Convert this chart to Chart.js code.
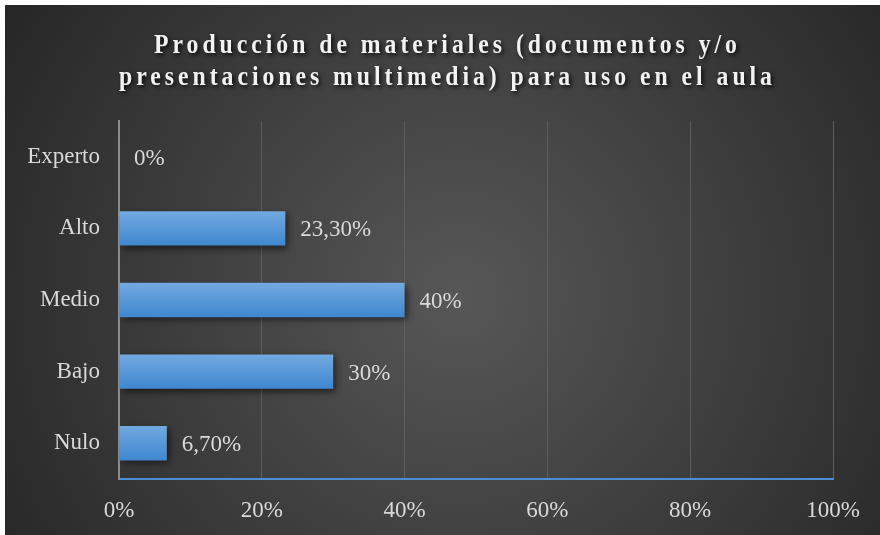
<!DOCTYPE html>
<html>
<head>
<meta charset="utf-8">
<script src="https://cdn.jsdelivr.net/npm/chart.js@4"></script>
<style>
  html, body { margin: 0; padding: 0; background: #fff; }
  #wrap { position: absolute; left: 5px; top: 5px; width: 875px; height: 530px; }
</style>
</head>
<body>
<div id="wrap"><canvas id="chart" width="875" height="530"></canvas></div>
<script>
const categories = ["Experto", "Alto", "Medio", "Bajo", "Nulo"];
const values = [0, 23.3, 40, 30, 6.7];
const valueLabels = ["0%", "23,30%", "40%", "30%", "6,70%"];
const tickValues = [0, 20, 40, 60, 80, 100];
const titleLines = ["Producción de materiales (documentos y/o", "presentaciones multimedia) para uso en el aula"];

const serif = "'Liberation Serif', 'Times New Roman', serif";

// dark radial background
const bgPlugin = {
    id: "bg",
    beforeDraw(chart) {
        const ctx = chart.ctx;
        const w = chart.width, h = chart.height;
        const g = ctx.createRadialGradient(w * 0.52, h * 0.55, 0, w * 0.52, h * 0.55, w * 0.62);
        g.addColorStop(0, "#575757");
        g.addColorStop(1, "#262626");
        ctx.save();
        ctx.fillStyle = g;
        ctx.fillRect(0, 0, w, h);
        ctx.restore();
    }
};

// bars get a soft shadow
const shadowPlugin = {
    id: "barShadow",
    beforeDatasetDraw(chart) {
        const ctx = chart.ctx;
        ctx.save();
        ctx.shadowColor = "rgba(0,0,0,0.55)";
        ctx.shadowBlur = 7;
        ctx.shadowOffsetX = 3;
        ctx.shadowOffsetY = 3;
    },
    afterDatasetDraw(chart) {
        chart.ctx.restore();
    }
};

const labelPlugin = {
    id: "valueLabels",
    afterDatasetsDraw(chart) {
        const ctx = chart.ctx;
        const meta = chart.getDatasetMeta(0);
        ctx.save();
        ctx.font = "23px " + serif;
        ctx.fillStyle = "#d9d9d9";
        ctx.textBaseline = "middle";
        ctx.textAlign = "left";
        meta.data.forEach((bar, i) => {
            ctx.fillText(valueLabels[i], bar.x + 15, bar.y + 2);
        });
        ctx.restore();
    }
};

// title: tall condensed serif, spaced out, with a drop shadow
const titlePlugin = {
    id: "fancyTitle",
    afterDraw(chart) {
        const ctx = chart.ctx;
        const sx = 0.88;
        ctx.save();
        ctx.scale(sx, 1);
        ctx.font = "bold 27px " + serif;
        ctx.letterSpacing = "4.5px";
        ctx.fillStyle = "#f2f2f2";
        ctx.textAlign = "center";
        ctx.textBaseline = "middle";
        ctx.shadowColor = "rgba(0,0,0,0.8)";
        ctx.shadowBlur = 4;
        ctx.shadowOffsetX = 2;
        ctx.shadowOffsetY = 2;
        const cx = (chart.width / 2 + 5) / sx;
        titleLines.forEach((line, i) => {
            ctx.fillText(line, cx, 41 + i * 32);
        });
        ctx.restore();
    }
};

function barGradient(context) {
    const chart = context.chart;
    const yScale = chart.scales.y;
    if (!chart.chartArea || !yScale) return "#5b9bd5";
    const cy = yScale.getPixelForValue(context.dataIndex);
    if (!isFinite(cy)) return "#5b9bd5";
    const h = 34;
    const g = chart.ctx.createLinearGradient(0, cy - h / 2, 0, cy + h / 2);
    g.addColorStop(0, "#72a9e0");
    g.addColorStop(1, "#3f87cf");
    return g;
}

const ctx = document.getElementById("chart").getContext("2d");
window.myChart = new Chart(ctx, {
    type: "bar",
    data: {
        labels: categories,
        datasets: [{
            data: values,
            backgroundColor: barGradient,
            borderWidth: 0,
            barPercentage: 0.48,
            categoryPercentage: 1
        }]
    },
    options: {
        indexAxis: "y",
        responsive: false,
        animation: false,
        layout: { padding: { top: 116, right: 47, left: 0, bottom: 0 } },
        plugins: {
            legend: { display: false },
            title: { display: false },
            tooltip: { enabled: false }
        },
        scales: {
            x: {
                min: 0,
                max: 100,
                afterBuildTicks(axis) {
                    axis.ticks = tickValues.map(v => ({ value: v }));
                },
                afterFit(axis) { axis.height = 56; },
                grid: { color: "#5e5e5e", lineWidth: 1, drawTicks: false },
                border: { display: true, color: "#4a8fd6", width: 2 },
                ticks: {
                    padding: 18,
                    color: "#d9d9d9",
                    font: { family: serif, size: 23 },
                    callback: v => v + "%"
                }
            },
            y: {
                afterFit(axis) { axis.width = 114; },
                grid: { display: false, drawTicks: false },
                border: { display: true, color: "#8c8c8c", width: 2 },
                ticks: {
                    padding: 19,
                    color: "#d9d9d9",
                    font: { family: serif, size: 23 }
                }
            }
        }
    },
    plugins: [bgPlugin, shadowPlugin, labelPlugin, titlePlugin]
});
</script>
</body>
</html>
